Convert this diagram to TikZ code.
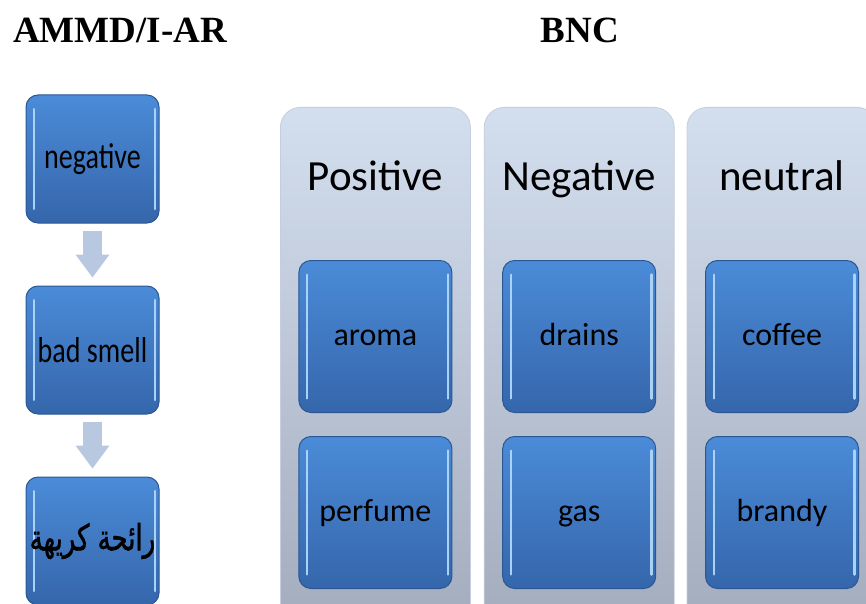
\documentclass[tikz,border=0pt]{standalone}
\usepackage{fontspec}
\setmainfont{Liberation Serif}
\newfontfamily\calibri{Carlito}
\newfontfamily\narrowcal[FakeStretch=0.78]{Carlito}
\newfontfamily\arabicfont[Script=Arabic,FakeStretch=0.72,FakeBold=1.2]{DejaVu Sans}
\TeXXeTstate=1
\definecolor{boxtop}{HTML}{4B8BD8}
\definecolor{boxbottom}{HTML}{3566AB}
\definecolor{boxedge}{HTML}{2B5894}
\definecolor{shine}{HTML}{A9D2F7}
\definecolor{coltop}{HTML}{D3DEEF}
\definecolor{colbottom}{HTML}{A3ACBC}
\definecolor{coledge}{HTML}{C5CEDC}
\definecolor{arrowfill}{HTML}{B7C8E0}
\usetikzlibrary{positioning, arrows.meta}

\begin{document}
\begin{tikzpicture}[
  x=1pt, y=-1pt,
  title/.style={font=\fontsize{37}{40}\selectfont\bfseries, anchor=base, inner sep=0pt},
  glossbox/.style={
    rectangle, rounded corners=12pt, draw=boxedge, line width=1pt,
    top color=boxtop, bottom color=boxbottom, inner sep=0pt,
    path picture={
      \draw[shine, line width=2pt, line cap=round]
        ([xshift=8pt,yshift=-14pt]path picture bounding box.north west) --
        ([xshift=8pt,yshift=14pt]path picture bounding box.south west);
      \draw[shine, line width=2.5pt, line cap=round]
        ([xshift=-4pt,yshift=-14pt]path picture bounding box.north east) --
        ([xshift=-4pt,yshift=14pt]path picture bounding box.south east);
    }
  },
  leftbox/.style={glossbox, minimum width=133pt, minimum height=128pt,
    font=\narrowcal\fontsize{36}{38}\selectfont},
  wordbox/.style={glossbox, minimum width=153pt, minimum height=152pt,
    font=\calibri\fontsize{32}{34}\selectfont, text height=24pt, text depth=6pt},
  colbox/.style={rectangle, rounded corners=20pt, draw=coledge, line width=0.8pt,
    top color=coltop, bottom color=colbottom,
    minimum width=190pt, minimum height=523pt},
  head/.style={font=\calibri\fontsize{43}{46}\selectfont, anchor=base, inner sep=0pt},
  downarrow/.style={draw=arrowfill, line width=19pt,
    -{Triangle[width=34pt, length=23pt, line width=0pt 0 0]},
    shorten <=7pt, shorten >=8pt}
]
\useasboundingbox (0,0) rectangle (866,604);
\clip (0,0) rectangle (866,604);

\node[title] (ammd) at (120,43) {AMMD/I-AR};
\node[title] (bnc) at (580,43) {BNC};

% left chain
\node[leftbox] (negative) at (92.5,159) {negative};
\node[leftbox, below=62pt of negative] (badsmell) {bad smell};
\node[leftbox, below=62pt of badsmell,
  font=\arabicfont\fontsize{36}{38}\selectfont] (karih) {\beginR رائحة كريهة\endR};

\draw[downarrow] (negative) -- (badsmell);
\draw[downarrow] (badsmell) -- (karih);

% BNC columns
\node[colbox, anchor=north west] (pos) at (280,107) {};
\node[colbox, right=13pt of pos] (neg) {};
\node[colbox, right=12pt of neg] (neu) {};

\node[head] (poshead) at ([yshift=-83pt]pos.north) {Positive};
\node[head] (neghead) at ([yshift=-83pt]neg.north) {Negative};
\node[head] (neuhead) at ([yshift=-83pt]neu.north) {neutral};

\node[wordbox, below=153pt of pos.north] (aroma) {aroma};
\node[wordbox, below=23pt of aroma] (perfume) {perfume};
\node[wordbox, below=153pt of neg.north] (drains) {drains};
\node[wordbox, below=23pt of drains] (gas) {gas};
\node[wordbox, below=153pt of neu.north] (coffee) {coffee};
\node[wordbox, below=23pt of coffee] (brandy) {brandy};

\end{tikzpicture}
\end{document}
